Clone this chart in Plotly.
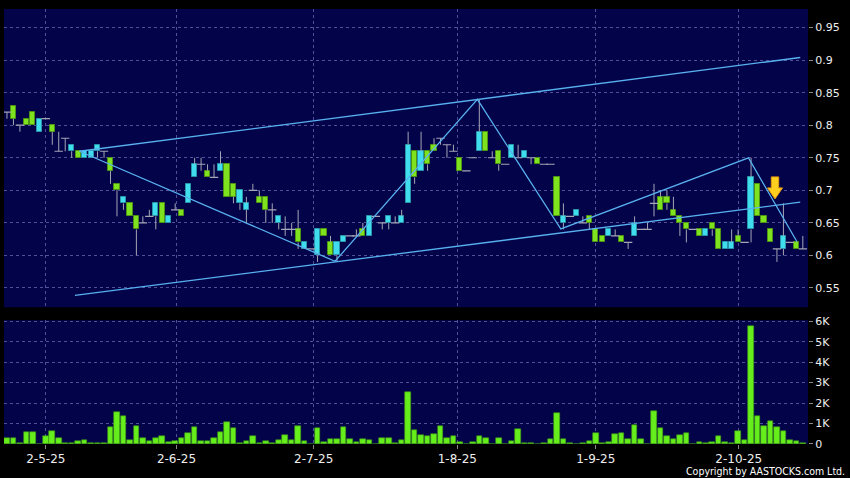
import plotly.graph_objects as go

# ---------------- data ----------------
opens = [0.82,0.83,0.80,0.81,0.82,0.79,0.81,0.80,0.76,0.78,
         0.76,0.76,0.75,0.75,0.76,0.76,0.75,0.71,0.68,0.68,
         0.66,0.65,0.66,0.66,0.68,0.65,0.67,0.67,0.68,0.72,
         0.74,0.73,0.72,0.73,0.74,0.71,0.68,0.67,0.70,0.69,
         0.69,0.67,0.65,0.64,0.64,0.64,0.61,0.61,0.60,0.64,
         0.62,0.60,0.62,0.63,0.63,0.64,0.63,0.66,0.65,0.65,
         0.65,0.65,0.68,0.76,0.73,0.76,0.77,0.78,0.77,0.76,
         0.75,0.73,0.75,0.76,0.79,0.75,0.76,0.74,0.75,0.75,
         0.75,0.75,0.75,0.74,0.74,0.72,0.65,0.66,0.66,0.65,
         0.66,0.64,0.63,0.63,0.63,0.63,0.62,0.63,0.64,0.64,
         0.68,0.69,0.69,0.67,0.66,0.65,0.64,0.64,0.63,0.65,
         0.64,0.61,0.61,0.63,0.62,0.64,0.71,0.66,0.64,0.61,
         0.61,0.62,0.62,0.61]
highs = [0.82,0.83,0.80,0.81,0.82,0.81,0.81,0.80,0.79,0.78,
         0.77,0.76,0.76,0.76,0.77,0.76,0.75,0.71,0.69,0.68,
         0.66,0.66,0.67,0.68,0.68,0.66,0.68,0.67,0.71,0.75,
         0.75,0.74,0.74,0.76,0.74,0.71,0.70,0.69,0.71,0.70,
         0.69,0.68,0.66,0.66,0.65,0.67,0.62,0.61,0.64,0.64,
         0.63,0.62,0.63,0.63,0.64,0.65,0.66,0.66,0.65,0.66,
         0.66,0.67,0.79,0.76,0.79,0.76,0.78,0.78,0.77,0.77,
         0.75,0.73,0.75,0.84,0.79,0.76,0.76,0.74,0.77,0.77,
         0.76,0.75,0.75,0.74,0.74,0.72,0.68,0.66,0.67,0.66,
         0.66,0.64,0.63,0.64,0.64,0.63,0.62,0.66,0.64,0.65,
         0.71,0.70,0.70,0.69,0.66,0.65,0.64,0.64,0.64,0.65,
         0.64,0.62,0.64,0.64,0.62,0.75,0.71,0.66,0.64,0.61,
         0.68,0.62,0.62,0.63]
lows = [0.81,0.80,0.79,0.80,0.80,0.79,0.81,0.77,0.76,0.76,
        0.75,0.75,0.75,0.75,0.75,0.75,0.71,0.66,0.67,0.66,
        0.60,0.65,0.66,0.64,0.65,0.65,0.67,0.66,0.68,0.72,
        0.73,0.72,0.72,0.73,0.69,0.68,0.67,0.65,0.70,0.68,
        0.65,0.65,0.64,0.63,0.63,0.61,0.61,0.61,0.59,0.63,
        0.60,0.59,0.62,0.63,0.63,0.63,0.63,0.66,0.64,0.64,
        0.65,0.65,0.68,0.71,0.73,0.73,0.76,0.77,0.75,0.76,
        0.73,0.73,0.75,0.76,0.76,0.75,0.73,0.74,0.75,0.75,
        0.75,0.74,0.74,0.74,0.74,0.66,0.64,0.66,0.66,0.65,
        0.64,0.62,0.62,0.63,0.63,0.62,0.61,0.63,0.64,0.64,
        0.66,0.67,0.67,0.66,0.63,0.62,0.64,0.63,0.63,0.63,
        0.61,0.61,0.61,0.62,0.62,0.62,0.66,0.65,0.62,0.59,
        0.60,0.62,0.61,0.61]
closes = [0.82,0.81,0.80,0.80,0.80,0.81,0.81,0.79,0.76,0.78,
          0.77,0.75,0.76,0.76,0.77,0.76,0.73,0.70,0.69,0.66,
          0.64,0.65,0.66,0.68,0.65,0.66,0.67,0.66,0.71,0.74,
          0.74,0.72,0.72,0.74,0.69,0.69,0.70,0.68,0.70,0.68,
          0.67,0.67,0.66,0.64,0.64,0.62,0.62,0.61,0.64,0.63,
          0.60,0.62,0.63,0.63,0.63,0.63,0.66,0.66,0.65,0.66,
          0.65,0.66,0.77,0.72,0.76,0.74,0.76,0.78,0.77,0.76,
          0.73,0.73,0.75,0.79,0.76,0.75,0.74,0.74,0.77,0.75,
          0.76,0.75,0.74,0.74,0.74,0.66,0.66,0.66,0.67,0.65,
          0.65,0.62,0.62,0.64,0.63,0.62,0.62,0.65,0.64,0.64,
          0.68,0.67,0.68,0.66,0.65,0.64,0.64,0.63,0.64,0.64,
          0.61,0.62,0.62,0.62,0.62,0.72,0.66,0.65,0.62,0.61,
          0.63,0.62,0.61,0.61]
volumes = [290,290,30,580,600,0,400,650,290,50,
           50,130,180,30,50,50,800,1560,1380,180,
           890,310,160,290,360,110,150,290,550,830,
           130,130,290,580,1070,750,50,150,370,50,
           130,30,190,440,190,890,160,0,750,110,
           260,230,800,260,100,230,180,0,310,290,
           50,190,2510,700,450,360,490,880,310,360,
           110,0,100,400,310,0,290,0,130,730,
           30,50,0,30,260,1510,260,20,0,50,
           150,530,50,100,490,530,240,910,240,0,
           1620,750,390,240,420,520,0,80,30,80,
           360,80,60,650,190,5740,1350,890,1120,810,
           630,180,130,60]

tick_pos = [6, 26.2, 47.4, 69.6, 91, 113.1]
tick_labels = ["2-5-25", "2-6-25", "2-7-25", "1-8-25", "1-9-25", "2-10-25"]
price_ticks = [0.55, 0.6, 0.65, 0.7, 0.75, 0.8, 0.85, 0.9, 0.95]
vol_ticks = [0, 1000, 2000, 3000, 4000, 5000, 6000]
vol_tick_labels = ["0", "1K", "2K", "3K", "4K", "5K", "6K"]

# trend lines (candle index, price)
upper_x, upper_y = [11.2, 122.6], [0.760, 0.904]
lower_x, lower_y = [10.5, 122.6], [0.5387, 0.6817]
zig_x = [11.2, 50.7, 72.7, 85.6, 114.6, 122.1]
zig_y = [0.760, 0.591, 0.8396, 0.6406, 0.7498, 0.621]
arrow_at = (118.7, 0.6868)

# ---------------- build ----------------
n = len(opens)
idx = list(range(n))
FONT = "DejaVu Sans"
GREEN, GREEN_EDGE = "#7EE21E", "#4E9414"
CYAN, CYAN_EDGE = "#3FDDEE", "#2896A8"
WICK = "#A6A6B6"
LINE = "#58B0EE"

wx, wy = [], []
for i in idx:
    top = max(opens[i], closes[i])
    bot = min(opens[i], closes[i])
    if highs[i] > top:
        wx += [i, i, None]; wy += [top, highs[i], None]
    if lows[i] < bot:
        wx += [i, i, None]; wy += [lows[i], bot, None]

up = [i for i in idx if closes[i] > opens[i]]
dn = [i for i in idx if closes[i] < opens[i]]
dj = [i for i in idx if closes[i] == opens[i]]

fig = go.Figure()
fig.add_trace(go.Scatter(x=wx, y=wy, mode="lines", line=dict(color=WICK, width=1),
                         hoverinfo="skip", showlegend=False, xaxis="x", yaxis="y"))
fig.add_trace(go.Bar(x=up, y=[closes[i] - opens[i] for i in up], base=[opens[i] for i in up],
                     width=0.8, marker=dict(color=CYAN, line=dict(color=CYAN_EDGE, width=1)),
                     showlegend=False, xaxis="x", yaxis="y"))
fig.add_trace(go.Bar(x=dn, y=[opens[i] - closes[i] for i in dn], base=[closes[i] for i in dn],
                     width=0.8, marker=dict(color=GREEN, line=dict(color=GREEN_EDGE, width=1)),
                     showlegend=False, xaxis="x", yaxis="y"))
fig.add_trace(go.Scatter(x=dj, y=[closes[i] for i in dj], mode="markers",
                         marker=dict(symbol="line-ew", size=6, line=dict(color=WICK, width=1.2)),
                         showlegend=False, xaxis="x", yaxis="y"))
for lx, ly in [(upper_x, upper_y), (lower_x, lower_y), (zig_x, zig_y)]:
    fig.add_trace(go.Scatter(x=lx, y=ly, mode="lines", line=dict(color=LINE, width=1.3),
                             hoverinfo="skip", showlegend=False, xaxis="x", yaxis="y"))

fig.add_trace(go.Bar(x=idx, y=volumes, width=0.86,
                     marker=dict(color="#66EE1C", line=dict(color="#3E9A10", width=0.6)),
                     showlegend=False, xaxis="x2", yaxis="y2"))

# yellow arrow
fig.add_shape(type="path", xref="x", yref="y", xsizemode="pixel", ysizemode="pixel",
              xanchor=arrow_at[0], yanchor=arrow_at[1],
              path="M 0,0 L -7.5,11 L -3.7,11 L -3.7,22 L 3.7,22 L 3.7,11 L 7.5,11 Z",
              fillcolor="#FFCE1E", line=dict(color="#E59A10", width=1))

grid = dict(showgrid=True, gridcolor="#50509A", gridwidth=1, griddash="3px,3px")
xr = [-0.46, 123.8]
fig.update_layout(
    width=850, height=478,
    margin=dict(l=4, r=42, t=5, b=34),
    paper_bgcolor="black", plot_bgcolor="#03034A",
    barmode="overlay", bargap=0,
    font=dict(family=FONT, color="#EEEEEE", size=11),
    xaxis=dict(domain=[0, 1], anchor="y", range=xr, tickvals=tick_pos, ticktext=tick_labels,
               showticklabels=False, ticks="", zeroline=False, showline=False, **grid),
    xaxis2=dict(domain=[0, 1], anchor="y2", range=xr, tickvals=tick_pos, ticktext=tick_labels,
                matches="x", ticks="outside", ticklen=4, tickcolor="#8A8A8A",
                tickfont=dict(family=FONT, size=12, color="#EEEEEE"),
                zeroline=False, showline=False, **grid),
    yaxis=dict(domain=[0.3144, 1], anchor="x", side="right", range=[0.5204, 0.9785],
               tickvals=price_ticks, ticks="outside", ticklen=4, tickcolor="#8A8A8A",
               tickfont=dict(family=FONT, size=11, color="#EEEEEE"),
               zeroline=False, showline=False, **grid),
    yaxis2=dict(domain=[0, 0.2847], anchor="x2", side="right", range=[0, 6050],
                tickvals=vol_ticks, ticktext=vol_tick_labels, ticks="outside", ticklen=4,
                tickcolor="#8A8A8A", tickfont=dict(family=FONT, size=11, color="#EEEEEE"),
                zeroline=False, showline=False, **grid),
    hovermode=False,
)
fig.add_annotation(text="Copyright by AASTOCKS.com Ltd.", xref="paper", yref="paper",
                   x=1, y=0, xanchor="right", yanchor="middle", xshift=39, yshift=-27,
                   showarrow=False,
                   font=dict(family="DejaVu Sans Condensed, DejaVu Sans", size=10.5, color="#FFFFFF"))

fig.write_html("out.html", config={"displayModeBar": False},
               post_script="document.body.style.margin='0';document.body.style.background='black';document.body.style.overflow='hidden';")
